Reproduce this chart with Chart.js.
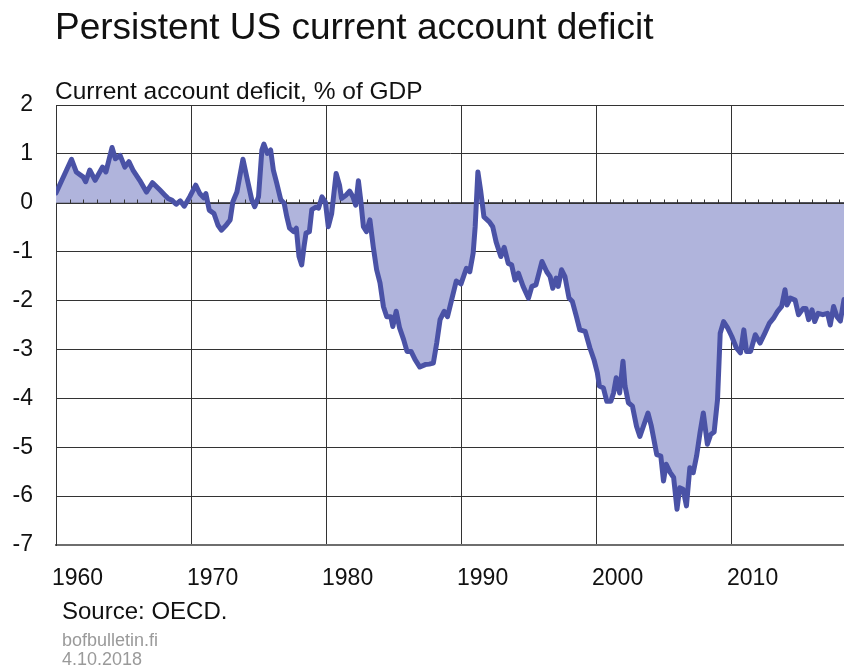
<!DOCTYPE html>
<html>
<head>
<meta charset="utf-8">
<script src="https://cdn.jsdelivr.net/npm/chart.js@4.4.0/dist/chart.umd.min.js"></script>
<style>
  html, body { margin: 0; padding: 0; background: #fff; }
  #wrap { position: relative; width: 844px; height: 669px; }
</style>
</head>
<body>
<div id="wrap"><canvas id="myChart"></canvas></div>
<script>
// time of each reading (decimal year) and current account balance, % of GDP
let years = [
  1960.0, 1961.15, 1961.5, 1962.0, 1962.2, 1962.5, 1962.9, 1963.45, 1963.7, 1964.15,
  1964.4, 1964.75, 1965.1, 1965.4, 1965.7, 1966.2, 1966.7, 1967.15, 1967.7, 1968.05,
  1968.3, 1968.6, 1968.9, 1969.2, 1969.5, 1969.9, 1970.35, 1970.65, 1970.95, 1971.1,
  1971.35, 1971.7, 1972.0, 1972.25, 1972.6, 1972.9, 1973.1, 1973.4, 1973.85, 1974.15,
  1974.5, 1974.72, 1975.0, 1975.25, 1975.4, 1975.65, 1975.9, 1976.1, 1976.35, 1976.65,
  1976.9, 1977.1, 1977.3, 1977.6, 1977.8, 1978.0, 1978.2, 1978.37, 1978.52, 1978.77,
  1978.95, 1979.25, 1979.45, 1979.7, 1979.95, 1980.17, 1980.42, 1980.75, 1981.0, 1981.15,
  1981.5, 1981.75, 1982.0, 1982.2, 1982.4, 1982.57, 1982.77, 1983.0, 1983.25, 1983.5,
  1983.75, 1984.0, 1984.25, 1984.5, 1984.8, 1984.95, 1985.2, 1985.45, 1985.75, 1986.0,
  1986.3, 1986.6, 1986.95, 1987.35, 1987.65, 1987.95, 1988.2, 1988.45, 1988.75, 1989.0,
  1989.3, 1989.65, 1990.0, 1990.4, 1990.65, 1990.9, 1991.05, 1991.25, 1991.45, 1991.7,
  1992.1, 1992.35, 1992.6, 1992.95, 1993.2, 1993.5, 1993.75, 1994.0, 1994.25, 1994.6,
  1995.0, 1995.25, 1995.55, 1996.0, 1996.35, 1996.6, 1996.8, 1997.05, 1997.2, 1997.45,
  1997.7, 1998.0, 1998.25, 1998.55, 1998.8, 1999.2, 1999.55, 1999.85, 2000.1, 2000.25,
  2000.55, 2000.8, 2001.1, 2001.3, 2001.5, 2001.75, 2002.0, 2002.15, 2002.4, 2002.7,
  2003.0, 2003.25, 2003.85, 2004.1, 2004.5, 2004.8, 2005.0, 2005.2, 2005.5, 2005.75,
  2006.0, 2006.2, 2006.45, 2006.7, 2006.95, 2007.2, 2007.45, 2007.7, 2007.95, 2008.25,
  2008.5, 2008.75, 2009.0, 2009.2, 2009.45, 2009.75, 2010.05, 2010.4, 2010.7, 2010.95,
  2011.15, 2011.45, 2011.8, 2012.15, 2012.5, 2012.85, 2013.15, 2013.45, 2013.75, 2014.0,
  2014.15, 2014.4, 2014.75, 2015.0, 2015.35, 2015.55, 2015.75, 2016.0, 2016.2, 2016.45,
  2016.8, 2017.15, 2017.35, 2017.6, 2017.85, 2018.1, 2018.37
]
let balance = [
  0.20, 0.89, 0.63, 0.53, 0.43, 0.67, 0.46, 0.73, 0.63, 1.13,
  0.90, 0.97, 0.73, 0.84, 0.67, 0.46, 0.22, 0.41, 0.26, 0.16,
  0.09, 0.05, -0.03, 0.04, -0.07, 0.12, 0.36, 0.19, 0.10, 0.19,
  -0.15, -0.22, -0.46, -0.56, -0.46, -0.35, 0.02, 0.22, 0.89, 0.50,
  0.06, -0.08, 0.12, 1.08, 1.20, 1.01, 1.08, 0.67, 0.40, 0.06,
  -0.01, -0.29, -0.52, -0.59, -0.52, -1.10, -1.27, -0.90, -0.62, -0.59,
  -0.14, -0.09, -0.11, 0.12, 0.02, -0.49, -0.22, 0.60, 0.36, 0.09,
  0.16, 0.24, 0.12, -0.05, 0.45, 0.06, -0.49, -0.59, -0.35, -0.90,
  -1.37, -1.64, -2.12, -2.33, -2.33, -2.53, -2.22, -2.56, -2.80, -3.04,
  -3.04, -3.21, -3.36, -3.31, -3.30, -3.28, -2.87, -2.39, -2.22, -2.33,
  -1.99, -1.60, -1.66, -1.34, -1.41, -1.03, -0.49, 0.63, 0.26, -0.29,
  -0.39, -0.49, -0.80, -1.10, -0.91, -1.24, -1.27, -1.58, -1.44, -1.71,
  -1.95, -1.71, -1.68, -1.20, -1.41, -1.51, -1.75, -1.54, -1.71, -1.37,
  -1.51, -1.95, -2.02, -2.33, -2.60, -2.63, -2.97, -3.21, -3.48, -3.75,
  -3.79, -4.06, -4.06, -3.89, -3.58, -3.89, -3.24, -3.75, -4.09, -4.16,
  -4.57, -4.78, -4.30, -4.57, -5.15, -5.18, -5.69, -5.35, -5.52, -5.62,
  -6.27, -5.83, -5.86, -6.20, -5.42, -5.52, -5.18, -4.71, -4.30, -4.94,
  -4.74, -4.69, -4.03, -2.67, -2.43, -2.56, -2.73, -2.97, -3.07, -2.60,
  -3.04, -3.04, -2.70, -2.87, -2.67, -2.46, -2.36, -2.22, -2.12, -1.78,
  -2.09, -1.95, -1.99, -2.29, -2.16, -2.16, -2.39, -2.19, -2.43, -2.26,
  -2.29, -2.26, -2.50, -2.12, -2.33, -2.42, -1.98
]
let decades = [1960, 1970, 1980, 1990, 2000, 2010]

let titleText = "Persistent US current account deficit"
let unitText = "Current account deficit, % of GDP"
let sourceText = "Source: OECD."
let siteText = "bofbulletin.fi"
let dateText = "4.10.2018"

const FONT = "'Liberation Sans', Arial, Helvetica, sans-serif"
const GRID = "#333"

// zero line with a small tick for every year, drawn over the fill
const zeroAxis = {
  id: "zeroAxis",
  beforeDatasetsDraw(chart) {
    const { ctx, chartArea, scales: { x, y } } = chart
    const y0 = Math.round(y.getPixelForValue(0)) + 0.5
    ctx.save()
    ctx.strokeStyle = GRID
    ctx.lineWidth = 1
    ctx.beginPath()
    ctx.moveTo(chartArea.left, y0)
    ctx.lineTo(chartArea.right, y0)
    for (let yr = 1961; yr < x.max; yr++) {
      const px = Math.round(x.getPixelForValue(yr)) + 0.5
      ctx.moveTo(px, y0)
      ctx.lineTo(px, y0 - 4)
    }
    ctx.stroke()
    ctx.restore()
  }
}

// headings and footnotes
const texts = {
  id: "texts",
  afterDraw(chart) {
    const ctx = chart.ctx
    ctx.save()
    ctx.textAlign = "left"
    ctx.textBaseline = "alphabetic"
    ctx.fillStyle = "#111"
    ctx.font = "37px " + FONT
    ctx.fillText(titleText, 55, 39)
    ctx.font = "24.5px " + FONT
    ctx.fillText(unitText, 55, 99)
    ctx.font = "24px " + FONT
    ctx.fillText(sourceText, 62, 619)
    ctx.fillStyle = "#9a9a9a"
    ctx.font = "18px " + FONT
    ctx.fillText(siteText, 62, 646)
    ctx.fillText(dateText, 62, 665)
    ctx.restore()
  }
}

let points = years.map((yr, i) => ({ x: yr, y: balance[i] }))

let ctx = document.getElementById("myChart").getContext("2d")

let myChart = new Chart(ctx, {
  type: "line",
  data: {
    datasets: [{
      label: unitText,
      data: points,
      borderColor: "#4a52a6",
      backgroundColor: "#b0b4dc",
      borderWidth: 5,
      borderJoinStyle: "round",
      borderCapStyle: "round",
      fill: "origin",
      tension: 0,
      pointRadius: 0
    }]
  },
  options: {
    responsive: true,
    maintainAspectRatio: false,
    animation: false,
    layout: { padding: { top: 105, right: 0, left: 0, bottom: 0 } },
    plugins: {
      legend: { display: false },
      tooltip: { enabled: false },
      filler: { drawTime: "beforeDatasetsDraw" }
    },
    scales: {
      x: {
        type: "linear",
        min: 1960,
        max: 2018.37,
        afterBuildTicks: scale => { scale.ticks = decades.map(v => ({ value: v })) },
        afterFit: scale => { scale.height = 124 },
        grid: { color: GRID, lineWidth: 1, drawTicks: false },
        border: { display: true, color: "#6e6e6e", width: 2 },
        ticks: {
          align: "start",
          labelOffset: -4,
          padding: 20,
          color: "#111",
          font: { family: FONT, size: 23 },
          callback: v => String(v)
        }
      },
      y: {
        min: -7,
        max: 2,
        afterFit: scale => { scale.width = 56 },
        grid: { color: GRID, lineWidth: 1, drawTicks: false },
        border: { display: true, color: GRID, width: 1 },
        ticks: {
          stepSize: 1,
          padding: 23,
          color: "#111",
          font: { family: FONT, size: 23 }
        }
      }
    }
  },
  plugins: [zeroAxis, texts]
})
</script>
</body>
</html>
